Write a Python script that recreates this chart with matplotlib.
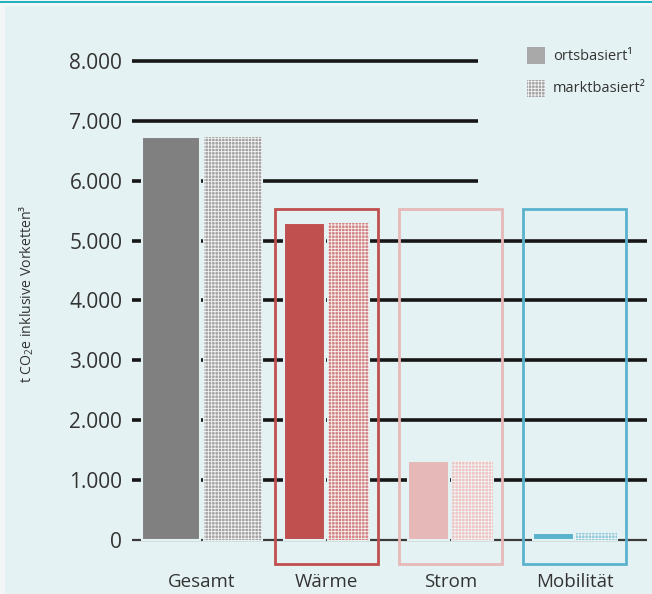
import numpy as np
import matplotlib.pyplot as plt
from matplotlib.patches import Rectangle

plt.rcParams['font.family'] = ['Open Sans', 'DejaVu Sans']
plt.rcParams['mathtext.fontset'] = 'custom'
plt.rcParams['mathtext.rm'] = 'Open Sans'
plt.rcParams['mathtext.default'] = 'regular'
plt.rcParams['hatch.linewidth'] = 0.6

# data
categories = ['Gesamt', 'Wärme', 'Strom', 'Mobilität']
ortsbasiert = [6720, 5290, 1324, 122]
marktbasiert = [6720, 5290, 1320, 115]
colors = ['#808080', '#c0504f', '#e6b8b7', '#5ab3cc']
hatch_face = ['#a2a2a2', '#d4807f', '#ebc3c2', '#8ccbdc']
yticks = [0, 1000, 2000, 3000, 4000, 5000, 6000, 7000, 8000]
ytick_labels = ['0', '1.000', '2.000', '3.000', '4.000', '5.000', '6.000', '7.000', '8.000']
legend_labels = ['ortsbasiert¹', 'marktbasiert²']

bg = '#e5f2f3'
W, H = 652, 594
fig = plt.figure(figsize=(W / 100, H / 100), dpi=100, facecolor='#f3f6f7')
fig.add_artist(Rectangle((5 / W, 0), 1, 1 - 6 / H, transform=fig.transFigure,
                         facecolor=bg, edgecolor='none', zorder=-10))
fig.add_artist(Rectangle((0, 1 - 3 / H), 1, 2 / H, transform=fig.transFigure,
                         facecolor='#1fb3be', edgecolor='none', zorder=-9))

ax = fig.add_axes([132 / W, 0, 1 - 132 / W, 1 - 10 / H])
ax.set_facecolor('none')
for s in ax.spines.values():
    s.set_visible(False)

px = 124.3  # pixels per category
ax.set_xlim(-70 / px, 450 / px)
ax.set_ylim(-901, 8848)

x = np.arange(len(categories))

# gridlines
for v in yticks[1:]:
    right = 2.22 if v >= 6000 else 3.58
    ax.hlines(v, -70 / px, right, color='#161616', lw=2.6, zorder=1)
ax.hlines(0, -70 / px, 3.58, color='#3a3a3a', lw=1.6, zorder=1)

for i in range(len(categories)):
    if i == 0:
        w, off = 58 / px, 31 / px
    else:
        w, off = 41 / px, 21.7 / px
    # solid bar
    ax.bar(x[i] - off, ortsbasiert[i], w, color=colors[i], edgecolor=bg, lw=1.5, zorder=3)
    # hatched bar
    ax.bar(x[i] + off, marktbasiert[i], w, color=bg, edgecolor=bg, lw=1.5, zorder=3)
    ax.bar(x[i] + off, marktbasiert[i], w, color=hatch_face[i], edgecolor='#f4f4f4',
           hatch='+++++', lw=0, zorder=4)
    if i > 0:
        ax.add_patch(Rectangle((x[i] - 51.5 / px, -400), 103 / px, 5925,
                               fill=False, edgecolor=colors[i], lw=2, zorder=5,
                               clip_on=False))
    ax.text(x[i], -700, categories[i], ha='center', va='center', fontsize=13.5,
            color='#333333')

ax.set_xticks([])
ax.set_yticks(yticks)
ax.set_yticklabels(ytick_labels, fontsize=15, color='#333333')
ax.tick_params(axis='y', length=0, pad=7)

fig.text(27 / W, 1 - 294 / H, 't CO$_2$e inklusive Vorketten³', rotation=90,
         ha='center', va='center', fontsize=10.2, color='#333333')

# legend
fig.add_artist(Rectangle((527 / W, 1 - 64 / H), 18 / W, 17 / H, transform=fig.transFigure,
                         facecolor='#a9a9a9', edgecolor='none'))
fig.add_artist(Rectangle((527 / W, 1 - 97 / H), 18 / W, 17 / H, transform=fig.transFigure,
                         facecolor='#a2a2a2', edgecolor='#f4f4f4', hatch='+++++', lw=0))
fig.text(553 / W, 1 - 56 / H, legend_labels[0], fontsize=10.5, va='center', color='#333333')
fig.text(553 / W, 1 - 89 / H, legend_labels[1], fontsize=10.5, va='center', color='#333333')

fig.savefig('out.png', dpi=100, facecolor=fig.get_facecolor())
